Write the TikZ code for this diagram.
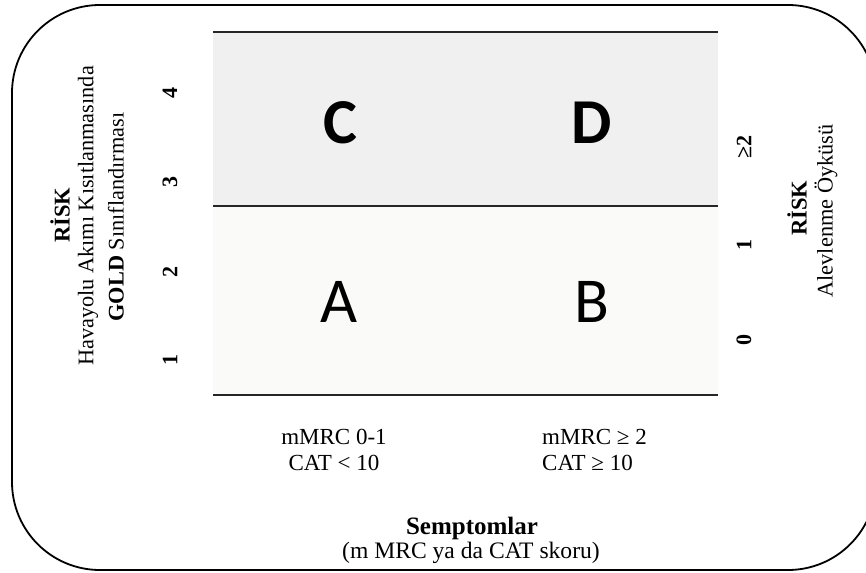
\documentclass[tikz,border=0pt]{standalone}
\usepackage{fontspec}
\setmainfont{Liberation Serif}
\newfontfamily\cellfont{Carlito}
\begin{document}
\begin{tikzpicture}[x=1pt,y=-1pt,
  sidetext/.style={font=\fontsize{22.3}{24}\selectfont, rotate=90, inner sep=0pt},
  sidehead/.style={font=\fontsize{22.5}{24}\selectfont\bfseries, rotate=90, inner sep=0pt},
  tick/.style={font=\fontsize{22}{24}\selectfont\bfseries, rotate=90, inner sep=0pt},
  axislabel/.style={font=\fontsize{23}{26}\selectfont, inner sep=0pt},
  cellletter/.style={font=\fontsize{64}{70}\selectfont\cellfont, inner sep=0pt},
  boldletter/.style={cellletter, font=\fontsize{64}{70}\selectfont\cellfont\bfseries},
  rule/.style={draw=black!85, line width=1.3pt},
  frame/.style={draw=black, line width=1.8pt, rounded corners=88pt}]
\useasboundingbox (0,0) rectangle (866,572);

% quadrant backgrounds
\fill[fill=black!6] (213,32) rectangle (718,206);
\fill[fill={rgb,255:red,250;green,250;blue,248}] (213,206) rectangle (718,395);

% horizontal rules
\coordinate (t0) at (213,32);  \coordinate (t1) at (718,32);
\coordinate (m0) at (213,206); \coordinate (m1) at (718,206);
\coordinate (b0) at (213,395); \coordinate (b1) at (718,395);
\draw[rule] (t0) -- (t1);
\draw[rule] (m0) -- (m1);
\draw[rule, line width=1.8pt] (b0) -- (b1);

% quadrant letters
\node[boldletter] (C) at (340,123) {C};
\node[boldletter] (D) at (592,123) {D};
\node[cellletter] (A) at (339,302) {A};
\node[cellletter] (B) at (592,302) {B};

% left axis
\node[sidehead] (riskL) at (60,215) {RİSK};
\node[sidetext] (airflow) at (88,216) {Havayolu Akımı Kısıtlanmasında};
\node[sidetext] (gold) at (116,217) {\textbf{GOLD} Sınıflandırması};
\node[tick] (g4) at (170,93) {4};
\node[tick] (g3) at (170,182) {3};
\node[tick] (g2) at (170,272) {2};
\node[tick] (g1) at (170,360) {1};

% right axis
\node[tick] (e2) at (744,147) {≥2};
\node[tick] (e1) at (744,245) {1};
\node[tick] (e0) at (744,340) {0};
\node[sidehead] (riskR) at (797,208) {RİSK};
\node[sidetext] (exac) at (826,211) {Alevlenme Öyküsü};

% bottom axis
\node[axislabel, align=center] (low) at (334,450) {mMRC 0-1\\CAT < 10};
\node[axislabel, align=left, anchor=west] (high) at (542,450) {mMRC ≥ 2\\CAT ≥ 10};
\node[axislabel, font=\fontsize{25}{28}\selectfont\bfseries] (symp) at (472,528) {Semptomlar};
\node[axislabel, font=\fontsize{23.6}{26}\selectfont] (score) at (471,553) {(m MRC ya da CAT skoru)};

% outer frame
\draw[frame] (12,5) rectangle (876,570);
\end{tikzpicture}
\end{document}
